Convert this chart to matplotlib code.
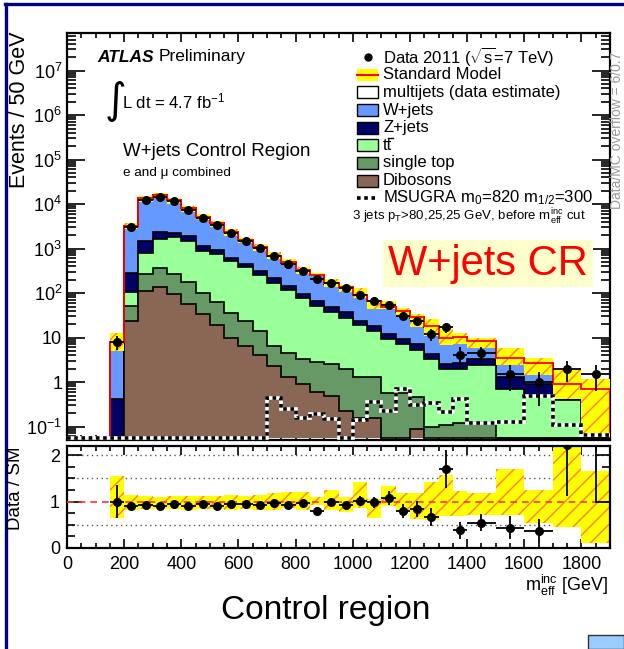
import numpy as np
import matplotlib
matplotlib.use("Agg")
import matplotlib.pyplot as plt
from matplotlib.patches import Rectangle
from matplotlib.lines import Line2D
from matplotlib.ticker import FixedLocator, MultipleLocator, LogLocator, FuncFormatter, NullFormatter

plt.rcParams['font.family'] = ['Liberation Sans', 'DejaVu Sans']
plt.rcParams['mathtext.fontset'] = 'custom'
plt.rcParams['mathtext.rm'] = 'Liberation Sans'
plt.rcParams['mathtext.it'] = 'Liberation Sans:italic'
plt.rcParams['mathtext.bf'] = 'Liberation Sans:bold'
plt.rcParams['hatch.linewidth'] = 1.0

# m_eff binning in GeV (events normalised to 50 GeV)
bin_edges = [150, 200, 250, 300, 350, 400, 450, 500, 550, 600, 650, 700, 750, 800,
             850, 900, 950, 1000, 1050, 1100, 1150, 1200, 1250, 1300, 1350, 1400,
             1500, 1600, 1700, 1800, 1900]

dibosons = [0, 24, 113, 139, 95, 58, 34, 19, 10, 6.5, 4.0, 2.3, 1.3, 0.9, 0.6, 0.5,
            0.22, 0.16, 0.16, 0, 0, 0.09, 0, 0, 0, 0, 0, 0, 0, 0]
single_top = [0, 28, 154, 220, 172, 124, 66, 43, 25, 17.5, 10, 4.2, 3.3, 2.4, 2.2, 2.0,
              1.74, 1.14, 1.14, 0.58, 0.58, 0.37, 0.1, 0.11, 0.12, 0.13, 0, 0, 0, 0]
ttbar = [0, 52, 525, 1276, 1513, 1268, 769, 689, 497, 356, 241, 163.5, 110.4, 72.7, 49.2,
         35.5, 26.0, 17.7, 12.7, 8.9, 6.6, 4.7, 3.2, 1.85, 1.84, 2.31, 0.7, 0.52, 0.39, 0.09]
zjets = [0.41, 173, 708, 755, 520, 425, 256, 189, 99, 60, 63, 44, 31, 19, 15, 10, 9, 5,
         4.5, 2.5, 2.0, 1.9, 1.0, 0.54, 0.79, 0.86, 0.6, 0.4, 0.05, 0.0]
wjets = [5.1, 2983, 11800, 13510, 9820, 6275, 4095, 2730, 1719, 1115, 762, 469, 339, 227,
         190, 115, 99, 65, 48.5, 37, 29.3, 21, 13.2, 7.2, 7.45, 4.7, 1.9, 1.68, 0.41, 0.56]
multijets = [2.5, 30, 100, 100, 80, 50, 40, 30, 20, 15, 10, 7, 5, 3, 3, 2, 2, 1, 1, 1,
             0.5, 0.5, 0.5, 0.3, 0.3, 0.3, 0.2, 0.1, 0.05, 0.05]
msugra = [0, 0, 0, 0, 0, 0, 0, 0, 0, 0, 0, 0.45, 0.25, 0.16, 0.19, 0.15, 0, 0.14, 0.36,
          0.22, 0.70, 0.30, 0.34, 0.21, 0.41, 0.12, 0.125, 0.5, 0.11, 0.065]

data = [8, 2990, 12480, 14580, 11480, 7460, 4990, 3370, 2230, 1475, 1010, 667, 450, 312,
        206, 165, 127, 92, 67, 54, 31, 24, 12, 17, 4, 4.5, 1.5, 1.0, 2.0, 1.5]
data_err = [2.8, 55, 112, 121, 107, 86, 71, 58, 47, 38, 32, 26, 21, 18, 14, 13, 11, 9.6,
            8.2, 7.3, 5.6, 4.9, 3.5, 4.1, 2.0, 1.5, 0.87, 0.71, 1.0, 0.87]

# relative systematic band (upper / lower edge of SM uncertainty)
band_up = [1.56, 1.15, 1.13, 1.11, 1.13, 1.13, 1.13, 1.12, 1.15, 1.13, 1.15, 1.19, 1.2,
           1.2, 1.1, 1.26, 1.1, 1.42, 1.05, 1.33, 1.19, 1.19, 1.42, 1.57, 1.22, 1.19,
           1.71, 1.26, 2.2, 1.67]
band_dn = [0.64, 0.82, 0.84, 0.84, 0.84, 0.83, 0.84, 0.84, 0.83, 0.84, 0.83, 0.83, 0.86,
           0.83, 0.93, 0.81, 0.77, 0.86, 0.65, 0.9, 0.83, 0.62, 0.61, 0.68, 0.7, 0.72,
           0.72, 0.54, 0.46, 0.1]

W, H = 624, 649


def fx(px):
    return px / W


def fy(py):
    return 1 - py / H


edges = np.array(bin_edges, float)
centers = 0.5 * (edges[:-1] + edges[1:])
widths = np.diff(edges)
layers = np.array([dibosons, single_top, ttbar, zjets, wjets, multijets], float)
cum = np.cumsum(layers, axis=0)
sm = cum[-1]
data = np.array(data, float)
data_err = np.array(data_err, float)
up = np.array(band_up)
dn = np.array(band_dn)

layer_colors = ['#8a6655', '#669966', '#99ff99', '#000066', '#6699ff', '#ffffff']
ymin, ymax = 0.05, 7e7
floor = 0.056

fig = plt.figure(figsize=(W / 100, H / 100), dpi=100)
ax = fig.add_axes([fx(67), fy(440), (610 - 67) / W, (440 - 33) / H])
rax = fig.add_axes([fx(67), fy(548), (610 - 67) / W, (548 - 446) / H])

# stacked backgrounds, drawn from the top of the stack down
for k in range(len(layers) - 1, -1, -1):
    ax.stairs(np.maximum(cum[k], floor), edges, baseline=floor, fill=True,
              facecolor=layer_colors[k], edgecolor='black', linewidth=1.2, zorder=2)

# SM uncertainty band
ax.bar(centers, sm * (up - dn), width=widths, bottom=sm * dn, color='#ffff00',
       edgecolor='#ff8033', hatch='//', linewidth=0, zorder=3)
ax.stairs(sm, edges, baseline=floor, color='red', linewidth=1.3, zorder=4)

# signal point
ms_edges = np.r_[0, edges]
ms_vals = np.maximum(np.r_[0, msugra], floor)
ax.stairs(ms_vals, ms_edges, baseline=None, color='white', linewidth=2.6, zorder=5)
ax.stairs(ms_vals, ms_edges, baseline=None, color='black', linewidth=2.6,
          linestyle=(0, (1, 1)), zorder=5)

ax.errorbar(centers, data, xerr=widths / 2, yerr=data_err, fmt='o', color='black',
            ms=5.5, lw=1.3, capsize=0, zorder=6)

ax.set_xlim(0, 1900)
ax.set_yscale('log')
ax.set_ylim(ymin, ymax)


def log_label(v, pos):
    e = int(round(np.log10(v)))
    if e == 0:
        return '1'
    if e == 1:
        return '10'
    return r'$10^{%d}$' % e


ax.yaxis.set_major_locator(FixedLocator([10.0 ** e for e in range(-1, 8)]))
ax.yaxis.set_major_formatter(FuncFormatter(log_label))
ax.yaxis.set_minor_locator(LogLocator(base=10, subs=np.arange(2, 10), numticks=30))
ax.yaxis.set_minor_formatter(NullFormatter())
ax.xaxis.set_major_locator(MultipleLocator(200))
ax.xaxis.set_minor_locator(MultipleLocator(50))
ax.tick_params(axis='x', which='both', direction='in', top=True, bottom=True, labelbottom=False)
ax.tick_params(axis='x', which='major', length=6.5, width=1.2)
ax.tick_params(axis='x', which='minor', length=3.5, width=1.2)
ax.tick_params(axis='y', which='both', direction='in', left=True, right=True, labelsize=13, pad=3.5)
ax.tick_params(axis='y', which='major', length=13, width=1.2)
ax.tick_params(axis='y', which='minor', length=6.5, width=1.2)
for s in ax.spines.values():
    s.set_linewidth(1.6)

# ratio panel
rax.bar(centers, up - dn, width=widths, bottom=dn, color='#ffff00', edgecolor='#ff8033',
        hatch='//', linewidth=0, zorder=2)
for lvl in (0.5, 1.5, 2.0):
    rax.axhline(lvl, color='#555555', linestyle=(0, (1, 2.5)), linewidth=1.0, zorder=1)
rax.axhline(1.0, color='#ff3333', linestyle=(0, (4, 3)), linewidth=1.2, zorder=3)
ratio = data / sm
ratio_err = data_err / sm
rax.errorbar(centers[:-1], ratio[:-1], xerr=widths[:-1] / 2, yerr=ratio_err[:-1], fmt='o',
             color='black', ms=5.5, lw=1.3, capsize=0, zorder=5)
rax.add_patch(Rectangle((edges[-2] + 50, 1.0), 50, 1.3, facecolor='none',
                        edgecolor='black', linewidth=1.3, zorder=4))
rax.set_xlim(0, 1900)
rax.set_ylim(0, 2.2)
rax.yaxis.set_major_locator(FixedLocator([0, 1, 2]))
rax.yaxis.set_minor_locator(MultipleLocator(0.25))
rax.xaxis.set_major_locator(MultipleLocator(200))
rax.xaxis.set_minor_locator(MultipleLocator(50))
rax.tick_params(axis='both', which='both', direction='in', top=True, right=True, labelsize=13)
rax.tick_params(axis='x', which='major', length=6.5, width=1.2, pad=6)
rax.tick_params(axis='x', which='minor', length=3.5, width=1.2)
rax.tick_params(axis='y', which='major', length=11, width=1.2, pad=5)
rax.tick_params(axis='y', which='minor', length=5.5, width=1.2)
for s in rax.spines.values():
    s.set_linewidth(1.6)

# axis titles
fig.text(fx(20), fy(32), 'Events / 50 GeV', rotation=90, ha='center', va='top', fontsize=15.5)
fig.text(fx(15), fy(446), 'Data / SM', rotation=90, ha='center', va='top', fontsize=13.5)
fig.text(fx(609), fy(585), r'm$_{\rm eff}^{\rm inc}$ [GeV]', ha='right', va='center', fontsize=13)
fig.text(fx(617), fy(130), 'Data/MC overflow = 6/0.7', rotation=90, ha='center', va='center',
         fontsize=10, color='#999999')

# labels inside the main panel
fig.text(fx(97), fy(57), 'ATLAS', fontsize=12.5, fontweight='bold', fontstyle='italic', va='center')
fig.text(fx(159), fy(57), 'Preliminary', fontsize=12.5, va='center')
fig.text(fx(115), fy(101), '\u222b', family='DejaVu Sans', fontsize=30, ha='center', va='center')
fig.text(fx(122), fy(101), r'L dt = 4.7 fb$^{-1}$', fontsize=12, va='center')
fig.text(fx(123), fy(152), 'W+jets Control Region', fontsize=13.5, va='center')
fig.text(fx(123), fy(173), 'e and \u03bc combined', fontsize=9.7, va='center')

# legend
leg_x0, leg_x1, tx = 357, 378, 383
rows = [57, 74.5, 92, 110, 127.5, 145, 163, 180.5, 198]
labels = [r'Data 2011 ($\sqrt{\rm s}$=7 TeV)', 'Standard Model', 'multijets (data estimate)',
          'W+jets', 'Z+jets', 'tt', 'single top', 'Dibosons',
          r'MSUGRA m$_0$=820 m$_{1/2}$=300']
fig.add_artist(Line2D([fx(368)], [fy(rows[0])], marker='o', color='black', ms=5,
                      transform=fig.transFigure))
fig.add_artist(Rectangle((fx(leg_x0), fy(rows[1] + 6)), (leg_x1 - leg_x0) / W, 12 / H,
                         transform=fig.transFigure, facecolor='#ffff00', edgecolor='none'))
fig.add_artist(Line2D([fx(leg_x0), fx(leg_x1)], [fy(rows[1])] * 2, color='red', lw=1.5,
                      transform=fig.transFigure))
box_colors = ['#ffffff', '#6699ff', '#000066', '#99ff99', '#669966', '#8a6655']
for r, c in zip(rows[2:8], box_colors):
    fig.add_artist(Rectangle((fx(leg_x0), fy(r + 6)), (leg_x1 - leg_x0) / W, 12 / H,
                             transform=fig.transFigure, facecolor=c, edgecolor='black', lw=1))
fig.add_artist(Line2D([fx(leg_x0), fx(leg_x1)], [fy(rows[8])] * 2, color='black', lw=2.6,
                      linestyle=(0, (1, 1)), transform=fig.transFigure))
for r, lab in zip(rows, labels):
    fig.text(fx(tx), fy(r), lab, fontsize=12, va='center')
# bar over the second t of "tt"
fig.add_artist(Line2D([fx(388), fx(393)], [fy(137.5)] * 2, color='black', lw=1.0,
                      transform=fig.transFigure))
fig.text(fx(352), fy(217), r'3 jets p$_{\rm T}$>80,25,25 GeV, before m$_{\rm eff}^{\rm inc}$ cut',
         fontsize=9.5, va='center')

# region tag
fig.add_artist(Rectangle((fx(383), fy(287)), (593 - 383) / W, (287 - 240) / H,
                         transform=fig.transFigure, facecolor='#ffffcc', edgecolor='none'))
fig.text(fx(488), fy(264), 'W+jets CR', fontsize=30, color='#ff0000', ha='center', va='center')

fig.text(fx(326), fy(610), 'Control region', fontsize=24, ha='center', va='center')

# slide frame
fig.add_artist(Line2D([fx(5), fx(624)], [fy(3.5)] * 2, color='#000080', lw=2.4,
                      transform=fig.transFigure))
fig.add_artist(Line2D([fx(6), fx(6)], [fy(3.5), fy(649)], color='#000080', lw=2.4,
                      transform=fig.transFigure))
fig.add_artist(Rectangle((fx(588), fy(649)), 36 / W, 14 / H, transform=fig.transFigure,
                         facecolor='#99ccff', edgecolor='#333333', lw=1))

fig.savefig('out.png', dpi=100)
